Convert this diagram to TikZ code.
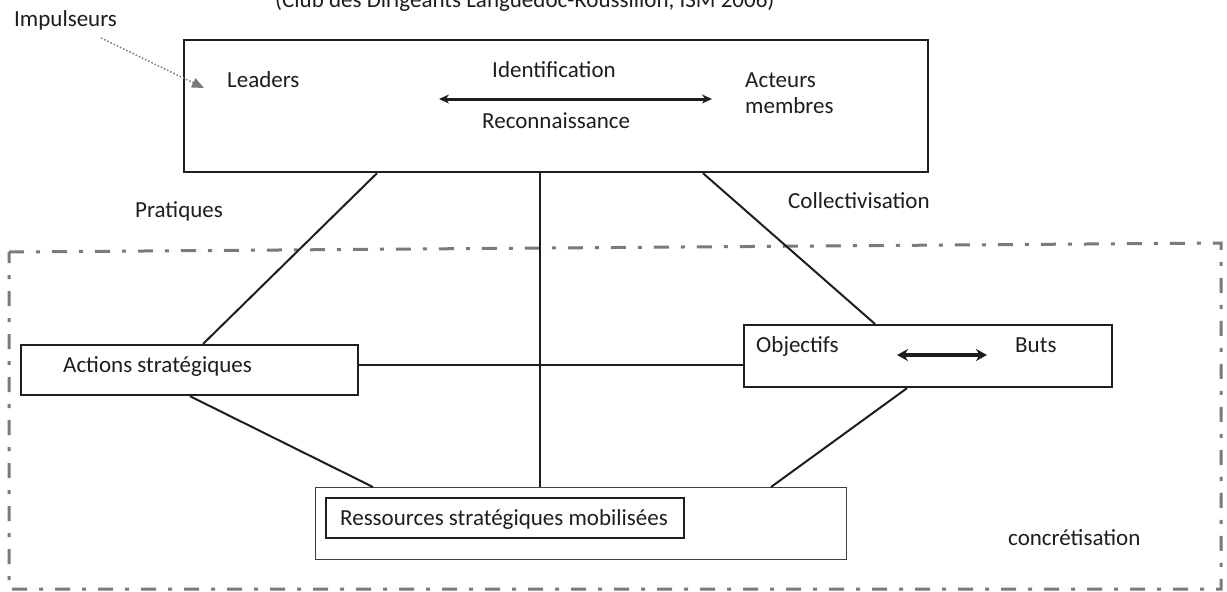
\documentclass[tikz,border=0pt]{standalone}
\usepackage{fontspec}
\setmainfont{Carlito}
\usetikzlibrary{calc,arrows.meta}
\definecolor{ink}{HTML}{1E1E1E}
\definecolor{framegray}{HTML}{7A7A7A}

\begin{document}
\begin{tikzpicture}[x=1pt,y=-1pt,
  lbl/.style={anchor=base west, inner sep=0pt, font=\fontsize{23}{27}\selectfont, text=ink},
  box/.style={draw=ink, line width=2.2pt, inner sep=0pt, anchor=north west},
  thinbox/.style={draw=ink!85, line width=1.4pt, inner sep=0pt, anchor=north west},
  link/.style={draw=ink, line width=2pt},
  zone/.style={draw=framegray, line width=3pt, dash pattern=on 15pt off 12pt on 4pt off 12pt},
  twoway/.style={draw=ink, line width=3pt, {Stealth[length=10pt,width=9pt]}-{Stealth[length=10pt,width=9pt]}},
  bigtwoway/.style={draw=ink, line width=3.5pt, {Stealth[length=11pt,width=12pt]}-{Stealth[length=11pt,width=12pt]}},
  pointer/.style={draw=framegray, line width=1.5pt, dotted, -{Triangle[length=12pt,width=10pt]}},
]
\useasboundingbox (0,0) rectangle (1227,592);
\clip (0,0) rectangle (1227,592);
\fill[white] (0,0) rectangle (1227,592);

% dash-dotted zone of realisation
\draw[zone] (9,252) -- (1221,243) -- (1221,589) -- (9,589) -- cycle;

% boxes
\node[box, minimum width=744pt, minimum height=132pt] (top) at (183,39) {};
\node[box, minimum width=337pt, minimum height=50pt] (actb) at (20,344) {};
\node[box, minimum width=368pt, minimum height=62pt] (objb) at (743,324) {};
\node[thinbox, minimum width=531pt, minimum height=72pt] (resb) at (315,487) {};
\node[box, minimum width=358pt, minimum height=40pt] (resin) at (325,497) {};

% labels
\node[lbl] (title) at (275,7) {(Club des Dirigeants Languedoc-Roussillon, ISM 2006)};
\node[lbl] (impulseurs) at (14,26) {Impulseurs};
\node[lbl] (leaders) at (227,87) {Leaders};
\node[lbl] (ident) at (492,77) {Identification};
\node[lbl] (reco) at (482,128) {Reconnaissance};
\node[lbl] (acteurs) at (745,87) {Acteurs};
\node[lbl] (membres) at (745,113) {membres};
\node[lbl] (pratiques) at (135,217) {Pratiques};
\node[lbl] (collect) at (788,208) {Collectivisation};
\node[lbl] (actions) at (63,372) {Actions stratégiques};
\node[lbl] (objectifs) at (756,352) {Objectifs};
\node[lbl] (buts) at (1015,352) {Buts};
\node[lbl] (ressources) at (340,525) {Ressources stratégiques mobilisées};
\node[lbl] (concret) at (1008,545) {concrétisation};

% arrow ends
\coordinate (idL) at (439,99);
\coordinate (idR) at (712,99);
\coordinate (obL) at (897,355);
\coordinate (obR) at (987,355);
\coordinate (ptr) at (101,38);
\coordinate (ptrend) at (204,88);

% arrows
\draw[twoway] (idL) -- (idR);
\draw[bigtwoway] (obL) -- (obR);
\draw[pointer] (ptr) -- (ptrend);

% connectors
\draw[link] ($(top.south west)+(194,0)$) -- ($(actb.north west)+(183,0)$);
\draw[link] ($(top.south west)+(357,0)$) -- ($(resb.north west)+(225,0)$);
\draw[link] ($(top.south west)+(520,0)$) -- ($(objb.north west)+(132,0)$);
\draw[link] ($(actb.north east)+(0,21)$) -- ($(objb.north west)+(0,41)$);
\draw[link] ($(actb.south west)+(170,0)$) -- ($(resb.north west)+(58,0)$);
\draw[link] ($(objb.south west)+(164,0)$) -- ($(resb.north west)+(456,0)$);
\end{tikzpicture}
\end{document}
